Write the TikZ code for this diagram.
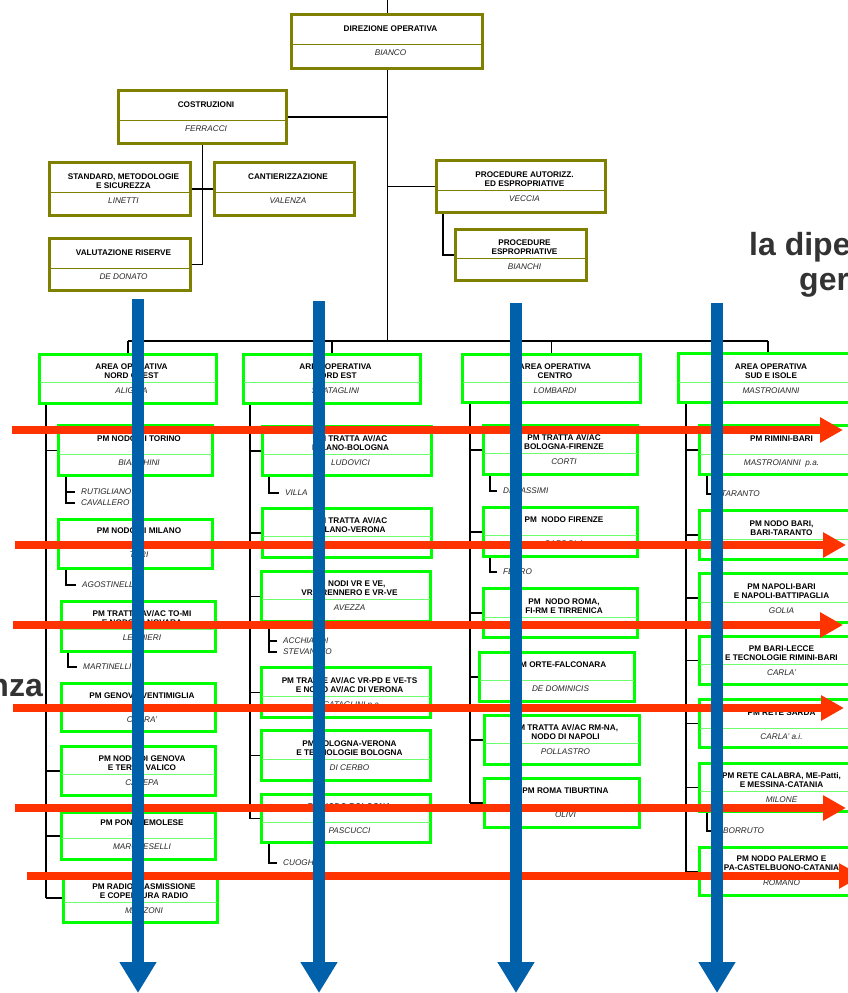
\documentclass[tikz,border=0pt]{standalone}
\usepackage{fontspec}
\setmainfont{Liberation Sans}
\usetikzlibrary{arrows.meta}
\definecolor{oliveb}{RGB}{128,128,0}
\definecolor{greenb}{RGB}{0,255,0}
\definecolor{greend}{RGB}{110,255,110}
\definecolor{bluea}{RGB}{0,96,170}
\definecolor{reda}{RGB}{255,51,0}
\definecolor{greyt}{RGB}{51,51,51}
\tikzset{
 obox/.style={draw=oliveb, line width=3pt, fill=white, rectangle, inner sep=0pt},
 odiv/.style={draw=oliveb, line width=0.9pt},
 gbox/.style={draw=greenb, line width=3pt, fill=white, rectangle, inner sep=0pt},
 gdiv/.style={draw=greend, line width=0.9pt},
 ttl/.style={font=\bfseries\fontsize{8.2}{9}\selectfont, align=center, inner sep=0pt, text=black},
 nm/.style={font=\itshape\fontsize{8.2}{9}\selectfont, inner sep=0pt, text=black!85},
 subn/.style={nm, anchor=west, inner xsep=6pt, inner ysep=0pt},
 conn/.style={draw=black, line width=1.2pt},
 spine/.style={draw=black, line width=1.8pt},
 redarr/.style={draw=reda, line width=7.5pt, -{Triangle[length=23pt,width=24pt]}},
 bluearr/.style={draw=bluea, line width=11.5pt, -{Triangle[length=31pt,width=35pt]}},
 big/.style={font=\bfseries\fontsize{32}{36}\selectfont, text=greyt, inner sep=0pt},
}
% kind, name, x1, y1, x2, y2, ydiv, title, person
\newcommand\mkbox[9]{%
 \pgfmathsetmacro\bxw{#5-#3-3}%
 \pgfmathsetmacro\bxh{#6-#4-3}%
 \pgfmathsetmacro\bxc{(#3+#5)/2}%
 \pgfmathsetmacro\bxm{(#4+#6)/2}%
 \node[#1box, minimum width=\bxw pt, minimum height=\bxh pt] (#2) at (\bxc,\bxm) {};
 \draw[#1div] (#3+2,#7) -- (#5-2,#7);
 \node[ttl, anchor=north] (#2t) at (\bxc+3.5,#7-18.5) {#8};
 \node[nm, anchor=base] (#2n) at (\bxc+3.5,#7+11) {#9};
}
\begin{document}
\begin{tikzpicture}[x=1pt,y=-1pt]
\useasboundingbox (0,0) rectangle (848,993);
\fill[white] (0,0) rectangle (848,993);

% large grey text fragments
\node[big, anchor=base west] (g1) at (749,255) {la dipe};
\node[big, anchor=base west] (g2) at (799,290) {ger};
\node[big, anchor=base east] (g3) at (43,696) {nza};

% olive boxes
\mkbox{o}{dir}{290}{13}{484}{70}{44}{DIREZIONE OPERATIVA}{BIANCO}
\mkbox{o}{cos}{117}{89}{288}{145}{120}{COSTRUZIONI}{FERRACCI}
\mkbox{o}{std}{48}{161}{192}{217}{192}{STANDARD, METODOLOGIE\\E SICUREZZA}{LINETTI}
\mkbox{o}{can}{213}{161}{356}{217}{192}{CANTIERIZZAZIONE}{VALENZA}
\mkbox{o}{val}{48}{237}{192}{292}{268}{VALUTAZIONE RISERVE}{DE DONATO}
\mkbox{o}{pro}{435}{159}{607}{214}{190}{PROCEDURE AUTORIZZ.\\ED ESPROPRIATIVE}{VECCIA}
\mkbox{o}{esp}{454}{228}{588}{282}{258}{PROCEDURE\\ESPROPRIATIVE}{BIANCHI}

% area boxes
\mkbox{g}{no}{38}{353}{218}{405}{382}{AREA OPERATIVA\\NORD OVEST}{ALIGHIA}
\mkbox{g}{ne}{242}{353}{422}{405}{382}{AREA OPERATIVA\\NORD EST}{SCATAGLINI}
\mkbox{g}{ce}{461}{353}{642}{404}{382}{AREA OPERATIVA\\CENTRO}{LOMBARDI}
\mkbox{g}{so}{677}{352}{858}{404}{382}{AREA OPERATIVA\\SUD E ISOLE}{MASTROIANNI}

% nord ovest
\mkbox{g}{no1}{57}{424}{214}{477}{454}{PM NODO DI TORINO}{BIANCHINI}
\mkbox{g}{no2}{57}{518}{214}{570}{546}{PM NODO DI MILANO}{TERI}
\mkbox{g}{no3}{60}{600}{217}{653}{629}{PM TRATTA AV/AC TO-MI\\E NODO DI NOVARA}{LEONIERI}
\mkbox{g}{no4}{60}{682}{217}{733}{711}{PM GENOVA-VENTIMIGLIA}{CARRA'}
\mkbox{g}{no5}{60}{745}{217}{797}{774}{PM NODO DI GENOVA\\E TERZO VALICO}{CANEPA}
\mkbox{g}{no6}{60}{811}{217}{861}{838}{PM PONTREMOLESE}{MARCHESELLI}
\mkbox{g}{no7}{62}{872}{219}{924}{902}{PM RADIOTRASMISSIONE\\E COPERTURA RADIO}{MANZONI}

% nord est
\mkbox{g}{ne1}{261}{425}{433}{477}{454}{PM TRATTA AV/AC\\MILANO-BOLOGNA}{LUDOVICI}
\mkbox{g}{ne2}{261}{507}{433}{559}{536}{PM TRATTA AV/AC\\MILANO-VERONA}{}
\mkbox{g}{ne3}{260}{570}{432}{623}{599}{PM NODI VR E VE,\\VR-BRENNERO E VR-VE}{AVEZZA}
\mkbox{g}{ne4}{260}{666}{432}{719}{696}{PM TRATTE AV/AC VR-PD E VE-TS\\E NODO AV/AC DI VERONA}{SCATAGLINI p.a.}
\mkbox{g}{ne5}{260}{729}{432}{782}{759}{PM BOLOGNA-VERONA\\E TECNOLOGIE BOLOGNA}{DI CERBO}
\mkbox{g}{ne6}{260}{793}{432}{844}{822}{PM NODO BOLOGNA}{PASCUCCI}

% centro
\mkbox{g}{ce1}{482}{424}{639}{476}{453}{PM TRATTA AV/AC\\BOLOGNA-FIRENZE}{CORTI}
\mkbox{g}{ce2}{482}{506}{639}{558}{535}{PM\ \ NODO FIRENZE}{CARDOLA}
\mkbox{g}{ce3}{482}{587}{639}{639}{617}{PM\ \ NODO ROMA,\\FI-RM E TIRRENICA}{}
\mkbox{g}{ce4}{478}{651}{636}{703}{680}{PM ORTE-FALCONARA}{DE DOMINICIS}
\mkbox{g}{ce5}{483}{714}{641}{766}{743}{PM TRATTA AV/AC RM-NA,\\NODO DI NAPOLI}{POLLASTRO}
\mkbox{g}{ce6}{483}{777}{641}{829}{806}{PM ROMA TIBURTINA}{OLIVI}

% sud e isole
\mkbox{g}{so1}{698}{424}{858}{476}{454}{PM RIMINI-BARI}{MASTROIANNI\ \ p.a.}
\mkbox{g}{so2}{698}{509}{858}{561}{539}{PM NODO BARI,\\BARI-TARANTO}{}
\mkbox{g}{so3}{698}{572}{858}{624}{602}{PM NAPOLI-BARI\\E NAPOLI-BATTIPAGLIA}{GOLIA}
\mkbox{g}{so4}{698}{635}{858}{686}{664}{PM BARI-LECCE\\E TECNOLOGIE RIMINI-BARI}{CARLA'}
\mkbox{g}{so5}{698}{698}{858}{749}{728}{PM RETE SARDA}{CARLA' a.i.}
\mkbox{g}{so6}{698}{762}{858}{813}{791}{PM RETE CALABRA, ME-Patti,\\E MESSINA-CATANIA}{MILONE}
\mkbox{g}{so7}{698}{846}{858}{897}{874}{PM NODO PALERMO E\\PA-CASTELBUONO-CATANIA}{ROMANO}

% sub names
\node[subn] (s1) at (75,492) {RUTIGLIANO};
\node[subn] (s2) at (75,503) {CAVALLERO};
\node[subn] (s3) at (76,585) {AGOSTINELLI};
\node[subn] (s4) at (77,667) {MARTINELLI};
\node[subn] (s5) at (279,493) {VILLA};
\node[subn] (s6) at (277,641) {ACCHIARDI};
\node[subn] (s7) at (277,652) {STEVANATO};
\node[subn] (s8) at (277,863) {CUOGHI};
\node[subn] (s9) at (497,491) {DI MASSIMI};
\node[subn] (s10) at (497,572) {FERRO};
\node[subn] (s11) at (715,494) {TARANTO};
\node[subn] (s12) at (717,831) {BORRUTO};

% top connectors
\coordinate (top) at (387,0);
\coordinate (jc) at (387,117);
\coordinate (j0) at (387,341);
\coordinate (jp) at (443,214);
\draw[conn, line width=1pt] (top) -- (dir.north);
\draw[conn, line width=1pt] (dir.south) -- (j0);
\draw[conn] (cos.east) -- (jc);
\draw[conn] (pro.west -| jc) -- (pro.west);
\draw[conn] (cos.south) |- (val.east);
\draw[conn] (std.east) -- (can.west);
\draw[conn] (jp) |- (esp.west);

% bus
\coordinate (busL) at (128,341);
\coordinate (busR) at (768,341);
\draw[spine] (busL) -- (busR);
\draw[spine] (busL) -- (busL |- no.north);
\draw[spine] (ne.north |- busL) -- (ne.north);
\draw[spine] (ce.north |- busL) -- (ce.north);
\draw[spine] (busR) -- (busR |- so.north);

% spines
\coordinate (noS) at (46,0);
\coordinate (neS) at (250,0);
\coordinate (ceS) at (470,0);
\coordinate (soS) at (686,0);
\draw[spine] (noS |- no.south) -- (noS |- no7.west);
\foreach \c in {no1,no2,no3,no4,no5,no6,no7} \draw[spine] (noS |- \c.west) -- (\c.west);
\draw[spine] (neS |- ne.south) -- (neS |- ne6.west);
\foreach \c in {ne1,ne2,ne3,ne4,ne5,ne6} \draw[spine] (neS |- \c.west) -- (\c.west);
\draw[spine] (ceS |- ce.south) -- (ceS |- ce6.west);
\foreach \c in {ce1,ce2,ce3,ce4,ce5,ce6} \draw[spine] (ceS |- \c.west) -- (\c.west);
\draw[spine] (soS |- so.south) -- (soS |- so7.west);
\foreach \c in {so1,so2,so3,so4,so5,so6,so7} \draw[spine] (soS |- \c.west) -- (\c.west);

% brackets to sub names
\coordinate (b1) at (66,477);
\coordinate (b2) at (66,570);
\coordinate (b3) at (68,653);
\coordinate (b4) at (269,477);
\coordinate (b5) at (269,623);
\coordinate (b6) at (269,844);
\coordinate (b7) at (490,476);
\coordinate (b8) at (490,558);
\coordinate (b9) at (707,476);
\coordinate (b10) at (707,813);
\draw[spine] (b1) |- (s2.west);
\draw[spine] (b1 |- s1.west) -- (s1.west);
\draw[spine] (b2) |- (s3.west);
\draw[spine] (b3) |- (s4.west);
\draw[spine] (b4) |- (s5.west);
\draw[spine] (b5) |- (s7.west);
\draw[spine] (b5 |- s6.west) -- (s6.west);
\draw[spine] (b6) |- (s8.west);
\draw[spine] (b7) |- (s9.west);
\draw[spine] (b8) |- (s10.west);
\draw[spine] (b9) |- (s11.west);
\draw[spine] (b10) |- (s12.west);

% red arrows
\foreach \i/\xa/\xb/\y in {1/12/843/430, 2/15/846/545, 3/13/843/625, 4/13/844/708, 5/15/846/808, 6/27/862/876}{
  \coordinate (ra\i) at (\xa,\y);
  \coordinate (rb\i) at (\xb,\y);
  \draw[redarr] (ra\i) -- (rb\i);
}
% blue arrows
\foreach \i/\x/\y in {1/138/299, 2/319/301, 3/516/303, 4/717/303}{
  \coordinate (ba\i) at (\x,\y);
  \coordinate (bb\i) at (\x,993);
  \draw[bluearr] (ba\i) -- (bb\i);
}
\end{tikzpicture}
\end{document}
